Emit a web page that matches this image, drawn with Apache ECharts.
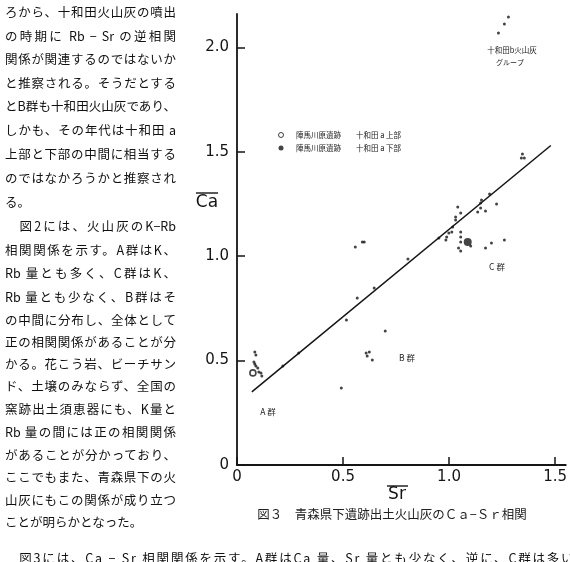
<!DOCTYPE html>
<html><head><meta charset="utf-8">
<script src="https://cdn.jsdelivr.net/npm/echarts@6/dist/echarts.min.js"></script>
<style>
html,body{margin:0;padding:0;background:#fff;width:570px;height:562px;overflow:hidden;}
#chart{position:absolute;left:0;top:0;width:570px;height:562px;}
#text{position:absolute;left:0;top:0;}
.ln{position:absolute;left:5px;width:171px;height:16px;font-family:"Noto Sans CJK JP";font-size:12.5px;line-height:16px;color:#111;text-align:justify;text-align-last:justify;}
.nj{text-align:left;text-align-last:left;}
.wide{width:580px;left:5px;letter-spacing:1.8px;text-align:left;text-align-last:left;white-space:nowrap;}
</style></head>
<body>
<div id="chart"></div>
<div id="text"></div>
<script>
// ---- data ----
const xTicks = [0, 0.5, 1, 1.5];
const yTicks = [0, 0.5, 1, 1.5, 2];
const xTickLabels = ['0', '0.5', '1.0', '1.5'];
const yTickLabels = ['0', '0.5', '1.0', '1.5', '2.0'];
const towadaB = [[1.280,2.146],[1.261,2.112],[1.233,2.069]];
const upperRight = [[1.346,1.490],[1.341,1.470],[1.355,1.470]];
const groupC = [[1.191,1.298],[1.153,1.269],[1.149,1.255],[1.224,1.250],[1.149,1.231],[1.135,1.212],[1.172,1.216],[1.041,1.236],[1.055,1.207],[1.031,1.188],[1.031,1.173],[1.017,1.140],[1.013,1.116],[0.999,1.111],[0.989,1.092],[0.985,1.078],[0.952,1.087],[1.055,1.116],[1.055,1.092],[1.055,1.068],[1.102,1.049],[1.045,1.039],[1.055,1.025],[1.200,1.063],[1.261,1.078],[1.172,1.039]];
const middle = [[0.806,0.987],[0.591,1.068],[0.600,1.068],[0.558,1.044],[0.647,0.848],[0.567,0.800],[0.516,0.694],[0.291,0.536],[0.216,0.474],[0.699,0.642],[0.492,0.369]];
const groupB = [[0.609,0.536],[0.624,0.541],[0.614,0.522],[0.638,0.503]];
const groupA = [[0.084,0.541],[0.089,0.527],[0.080,0.493],[0.084,0.484],[0.089,0.474],[0.098,0.465],[0.103,0.445],[0.113,0.441],[0.117,0.426]];
const upperSite = [[0.075,0.441]];
const lowerSite = [[1.088,1.068]];
const fitX = [0.07, 1.48];
const fitY = [0.35, 1.53];
const nameUpper = '陣馬川原遺跡　　十和田 a 上部';
const nameLower = '陣馬川原遺跡　　十和田 a 下部';

const bodyLines = [
 'ろから、十和田火山灰の噴出',
 'の時期に Rb − Sr の逆相関',
 '関係が関連するのではないか',
 'と推察される。そうだとする',
 'とB群も十和田火山灰であり、',
 'しかも、その年代は十和田 a',
 '上部と下部の中間に相当する',
 'のではなかろうかと推察され',
 'る。',
 '　図2には、火山灰のK−Rb',
 '相関関係を示す。A群はK、',
 ' Rb 量とも多く、C群はK、',
 ' Rb 量とも少なく、B群はそ',
 'の中間に分布し、全体として',
 '正の相関関係があることが分',
 'かる。花こう岩、ビーチサン',
 'ド、土壌のみならず、全国の',
 '窯跡出土須恵器にも、K量と',
 ' Rb 量の間には正の相関関係',
 'があることが分かっており、',
 'ここでもまた、青森県下の火',
 '山灰にもこの関係が成り立つ',
 'ことが明らかとなった。',
 '　図3には、Ca − Sr 相関関係を示す。A群はCa 量、Sr 量とも少なく、逆に、C群は多い'
];
const bodyY = [12,35.5,59,83,106,130,154,178,202,226,250,273,297,320,342,364,386,409,432,455,477,500,522,558];

// ---- body text ----
const tdiv = document.getElementById('text');
bodyLines.forEach((t, i) => {
  const d = document.createElement('div');
  d.className = 'ln' + ((i === 8 || i === 22) ? ' nj' : '') + (i === 23 ? ' wide' : '');
  d.style.top = (bodyY[i] - 8) + 'px';
  d.textContent = t;
  tdiv.appendChild(d);
});

// ---- chart ----
const chart = echarts.init(document.getElementById('chart'), null, {renderer: 'canvas'});
const ink = '#151515';
const allSmall = [].concat(towadaB, upperRight, groupC, middle, groupB, groupA);
const option = {
  animation: false,
  backgroundColor: 'transparent',
  grid: {left: 237, top: 14, width: 331, height: 451, containLabel: false},
  legend: {
    orient: 'vertical', left: 278, top: 131, padding: 0, itemGap: 5,
    itemWidth: 20, itemHeight: 5,
    textStyle: {fontSize: 7.5, lineHeight: 8, color: '#222', fontFamily: 'Noto Sans CJK JP', padding: [0,0,0,0]},
    data: [
      {name: nameUpper, icon: 'circle', itemStyle: {color: '#fff', borderColor: ink, borderWidth: 1}},
      {name: nameLower, icon: 'circle', itemStyle: {color: ink}}
    ]
  },
  xAxis: {
    type: 'value', min: 0, max: 1.55,
    axisLine: {onZero: false, lineStyle: {color: ink, width: 2}},
    axisTick: {inside: true, length: 8, customValues: xTicks, lineStyle: {color: ink, width: 1.5}},
    axisLabel: {customValues: xTicks, margin: 5, color: ink, fontSize: 15, fontFamily: 'DejaVu Sans',
      formatter: v => xTickLabels[xTicks.indexOf(v)] ?? ''},
    splitLine: {show: false}
  },
  yAxis: {
    type: 'value', min: 0, max: 2.16,
    axisLine: {onZero: false, lineStyle: {color: ink, width: 1.8}},
    axisTick: {inside: true, length: 8, customValues: yTicks, lineStyle: {color: ink, width: 1.5}},
    axisLabel: {customValues: yTicks, margin: 8, color: ink, fontSize: 15, fontFamily: 'DejaVu Sans',
      formatter: v => yTickLabels[yTicks.indexOf(v)] ?? ''},
    splitLine: {show: false}
  },
  series: [
    {type: 'line', name: 'fit', data: fitX.map((x, i) => [x, fitY[i]]), symbol: 'none',
     lineStyle: {color: ink, width: 1.5}, silent: true, z: 1},
    {type: 'scatter', name: 'samples', data: allSmall, symbolSize: 3,
     itemStyle: {color: ink}, z: 3},
    {type: 'scatter', name: nameUpper, data: upperSite, symbol: 'circle', symbolSize: 6,
     itemStyle: {color: '#fff', borderColor: ink, borderWidth: 1.6}, z: 4},
    {type: 'scatter', name: nameLower, data: lowerSite, symbol: 'circle', symbolSize: 8,
     itemStyle: {color: ink}, z: 4}
  ],
  graphic: [
    {type: 'text', x: 512, y: 50, style: {text: '十和田b火山灰', fontSize: 7.5, fill: '#222', align: 'center', verticalAlign: 'middle', fontFamily: 'Noto Sans CJK JP'}},
    {type: 'text', x: 510, y: 62, style: {text: 'グループ', fontSize: 7, fill: '#222', align: 'center', verticalAlign: 'middle', fontFamily: 'Noto Sans CJK JP'}},
    {type: 'text', x: 497, y: 267, style: {text: 'C 群', fontSize: 8.5, fill: '#222', align: 'center', verticalAlign: 'middle', fontFamily: 'Noto Sans CJK JP'}},
    {type: 'text', x: 407, y: 358, style: {text: 'B 群', fontSize: 8.5, fill: '#222', align: 'center', verticalAlign: 'middle', fontFamily: 'Noto Sans CJK JP'}},
    {type: 'text', x: 268, y: 412, style: {text: 'A 群', fontSize: 8.5, fill: '#222', align: 'center', verticalAlign: 'middle', fontFamily: 'Noto Sans CJK JP'}},
    {type: 'text', x: 207, y: 203, style: {text: 'Ca', fontSize: 17, fill: ink, align: 'center', verticalAlign: 'middle', fontFamily: 'DejaVu Sans'}},
    {type: 'line', shape: {x1: 196, y1: 193, x2: 218, y2: 193}, style: {stroke: ink, lineWidth: 1.4}},
    {type: 'text', x: 397, y: 495, style: {text: 'Sr', fontSize: 17, fill: ink, align: 'center', verticalAlign: 'middle', fontFamily: 'DejaVu Sans'}},
    {type: 'line', shape: {x1: 387, y1: 486, x2: 408, y2: 486}, style: {stroke: ink, lineWidth: 1.4}},
    {type: 'text', x: 392, y: 514, style: {text: '図３　青森県下遺跡出土火山灰のＣａ−Ｓｒ相関', fontSize: 12.5, fill: '#222', align: 'center', verticalAlign: 'middle', fontFamily: 'Noto Sans CJK JP'}}
  ]
};
chart.setOption(option);
</script>
</body></html>
